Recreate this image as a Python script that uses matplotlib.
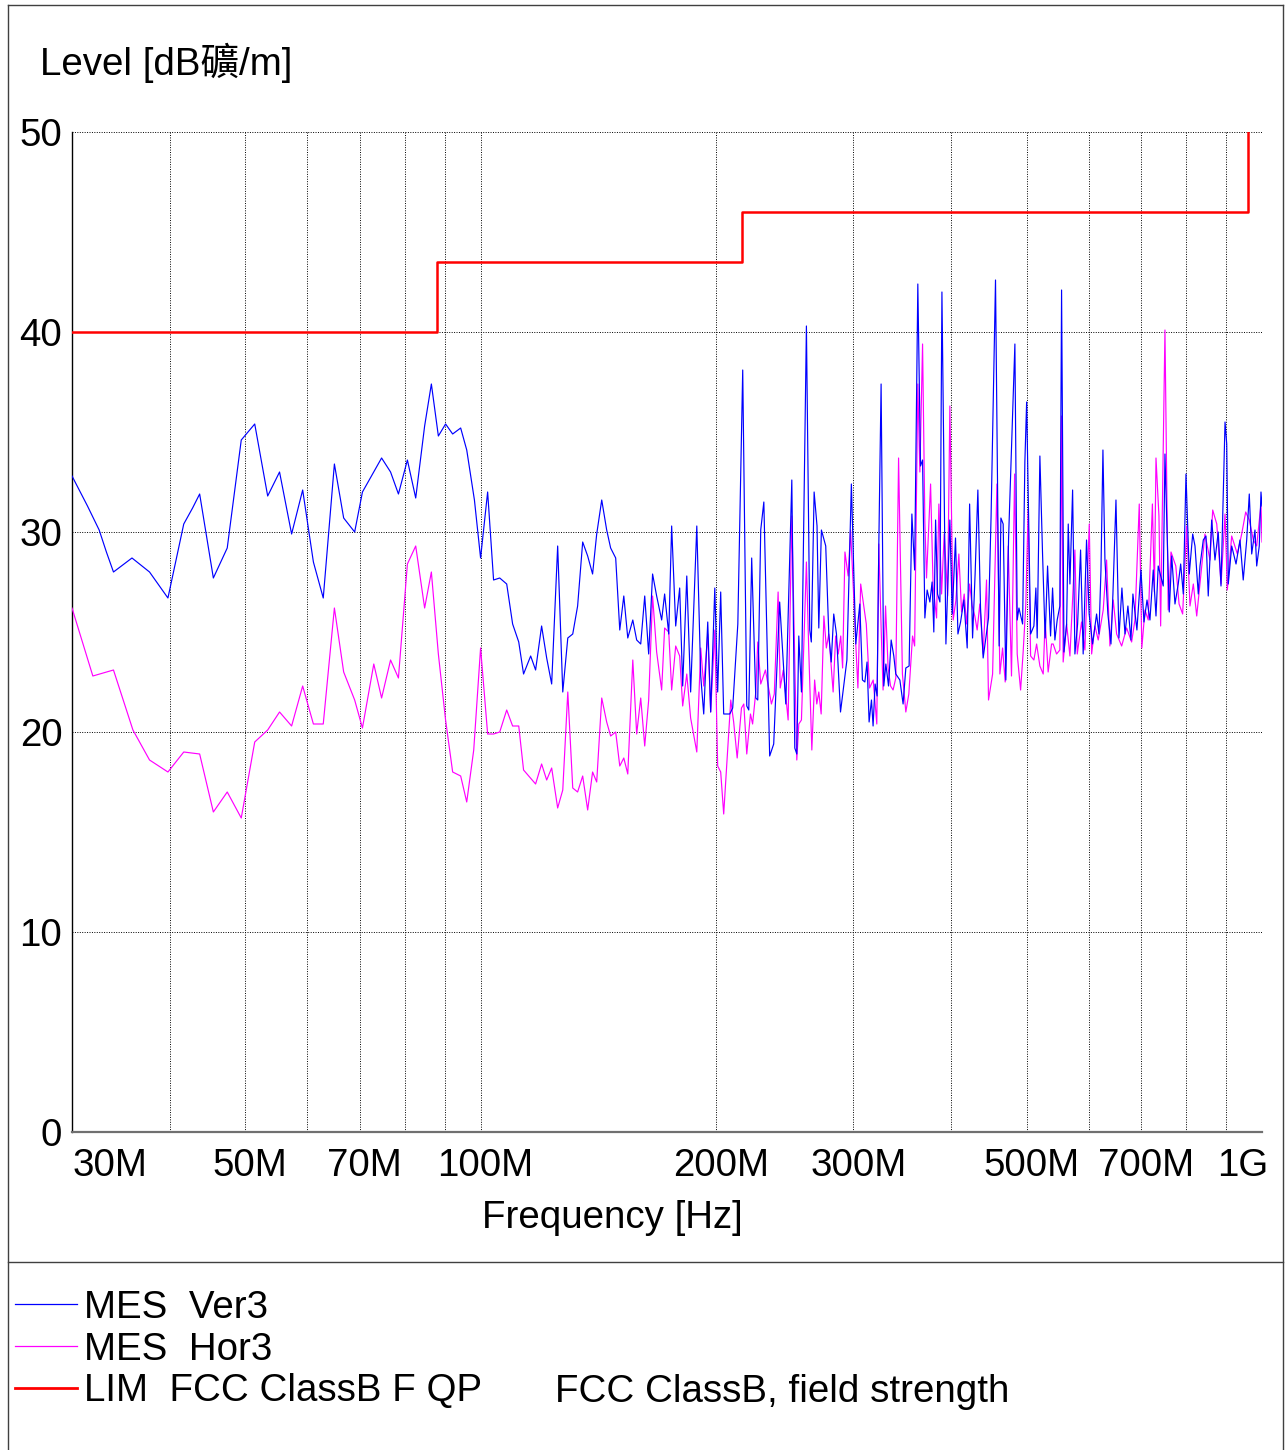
import matplotlib
matplotlib.use('Agg')
import matplotlib.pyplot as plt
from matplotlib.lines import Line2D
from matplotlib.ticker import FixedLocator, NullLocator

# Measured levels, frequency in MHz, level in dBuV/m
ver_mhz = [
    30.0, 31.4, 32.5, 33.2, 33.9, 35.8, 37.7, 39.8, 41.7, 42.8, 43.7, 45.5, 47.4, 49.4, 51.4, 53.4, 55.3, 57.3, 59.2, 61.1,
    62.9, 65.0, 66.8, 69.0, 70.6, 74.7, 76.7, 78.5, 80.6, 82.6, 84.8, 86.5, 88.3, 90.2, 92.1, 94.3, 96.0, 98.2, 100.0, 102.1,
    103.9, 105.8, 108.0, 109.9, 111.9, 113.5, 115.9, 117.6, 119.7, 121.5, 123.3, 125.5, 127.4, 129.3, 131.2, 133.1, 135.1, 137.1, 139.1, 140.8,
    142.9, 145.0, 146.7, 148.9, 150.7, 152.5, 154.3, 156.6, 158.4, 160.3, 162.2, 164.1, 166.0, 168.0, 170.5, 172.0, 174.1, 175.6, 177.7, 179.8,
    181.4, 183.6, 185.7, 189.1, 191.3, 193.0, 195.3, 197.0, 199.4, 201.1, 202.9, 204.7, 208.4, 210.2, 213.4, 216.5, 219.1, 220.4, 222.3, 225.0,
    226.3, 228.3, 230.4, 234.4, 237.2, 241.4, 245.8, 250.2, 252.4, 253.9, 255.4, 257.4, 261.2, 263.8, 265.0, 267.2, 269.5, 270.9, 273.0, 276.5,
    279.0, 281.0, 283.1, 285.4, 288.8, 290.9, 294.3, 298.2, 302.1, 305.7, 308.1, 310.3, 312.3, 314.2, 316.4, 317.9, 319.8, 321.7, 323.3, 325.5,
    328.1, 330.1, 332.7, 335.3, 337.9, 339.9, 344.0, 347.3, 350.1, 353.5, 356.4, 359.3, 362.7, 365.6, 367.8, 370.3, 372.8, 375.8, 378.3, 380.2,
    382.2, 384.4, 387.1, 389.4, 394.0, 398.6, 401.4, 405.3, 408.2, 411.4, 415.4, 419.5, 422.5, 426.2, 429.4, 432.9, 436.3, 439.7, 446.7, 450.1,
    456.0, 460.9, 463.3, 466.4, 470.1, 473.9, 482.8, 486.1, 488.6, 493.9, 497.2, 499.8, 505.7, 510.6, 513.6, 515.6, 519.7, 523.8, 527.8, 531.6,
    536.3, 539.5, 543.2, 546.9, 551.2, 554.0, 557.9, 562.3, 565.0, 567.8, 572.3, 576.2, 580.8, 585.9, 590.4, 596.3, 600.9, 607.0, 614.2, 618.5,
    622.2, 625.8, 629.5, 635.0, 640.8, 644.5, 650.3, 656.0, 661.8, 667.8, 673.6, 679.7, 683.6, 691.7, 700.0, 706.2, 712.6, 718.8, 725.8, 731.7,
    736.5, 747.5, 751.3, 760.9, 766.4, 773.8, 781.3, 786.9, 793.0, 799.3, 807.1, 815.3, 820.8, 828.8, 833.0, 841.1, 847.8, 853.5, 862.2, 870.6,
    879.0, 886.2, 896.8, 901.3, 905.4, 914.6, 926.3, 937.2, 946.2, 955.9, 963.2, 970.1, 979.5, 984.5, 992.0, 997.0, 1000.0]
ver_db = [
    32.8, 31.3, 30.1, 29.0, 28.0, 28.7, 28.0, 26.7, 30.4, 31.2, 31.9, 27.7, 29.2, 34.6, 35.4, 31.8, 33.0, 29.9, 32.1, 28.5,
    26.7, 33.4, 30.7, 30.0, 32.0, 33.7, 33.0, 31.9, 33.6, 31.7, 35.3, 37.4, 34.8, 35.4, 34.9, 35.2, 34.1, 31.6, 28.7, 32.0,
    27.6, 27.7, 27.4, 25.4, 24.5, 22.9, 23.8, 23.1, 25.3, 23.7, 22.4, 29.3, 22.0, 24.7, 24.9, 26.3, 29.5, 28.8, 27.9, 29.9,
    31.6, 30.1, 29.2, 28.7, 25.1, 26.8, 24.7, 25.6, 24.6, 24.4, 26.8, 23.9, 27.9, 26.8, 25.6, 26.9, 24.9, 30.3, 25.3, 27.2,
    22.3, 27.8, 22.0, 30.3, 22.8, 20.9, 25.5, 21.0, 27.2, 22.0, 27.0, 20.9, 20.9, 21.2, 25.4, 38.1, 21.3, 21.1, 28.7, 21.7,
    21.6, 30.1, 31.5, 18.8, 19.4, 26.5, 21.4, 32.6, 19.2, 18.9, 24.8, 22.0, 40.3, 25.1, 24.5, 32.0, 30.3, 25.2, 30.1, 29.3,
    24.9, 23.5, 25.9, 24.9, 21.0, 22.0, 23.6, 32.4, 24.4, 26.4, 22.6, 22.5, 23.5, 20.5, 21.6, 20.3, 22.4, 21.8, 29.3, 37.4,
    22.3, 23.4, 22.3, 24.6, 23.8, 22.9, 22.6, 21.4, 23.2, 23.3, 30.9, 28.1, 42.4, 33.3, 33.6, 25.7, 27.1, 26.5, 27.5, 25.0,
    30.6, 26.9, 26.5, 42.0, 24.4, 30.6, 25.9, 29.7, 24.9, 25.5, 26.6, 24.2, 31.4, 24.7, 27.9, 32.1, 26.2, 23.7, 25.7, 30.8,
    42.6, 24.3, 30.7, 30.4, 22.6, 29.7, 39.4, 25.6, 26.2, 25.4, 33.5, 36.5, 24.9, 25.3, 27.2, 24.7, 33.8, 28.9, 24.7, 28.3,
    24.8, 27.2, 24.6, 25.6, 26.3, 42.1, 24.0, 25.4, 30.4, 27.4, 32.1, 23.9, 25.4, 29.1, 23.9, 29.6, 25.9, 24.4, 25.9, 24.9,
    28.1, 34.1, 28.6, 25.9, 24.4, 26.9, 31.6, 24.7, 27.2, 24.9, 26.3, 24.6, 26.9, 25.1, 28.1, 25.5, 26.6, 25.6, 28.1, 25.8,
    28.3, 27.3, 33.9, 26.0, 28.8, 26.4, 27.4, 28.4, 26.9, 32.9, 27.9, 29.9, 29.3, 26.9, 28.3, 29.6, 29.8, 26.8, 30.6, 28.6,
    30.0, 27.3, 35.5, 34.4, 27.4, 29.3, 28.4, 29.6, 27.6, 29.6, 31.9, 28.9, 30.1, 28.3, 29.3, 32.0, 31.3]

hor_mhz = [
    30.0, 31.9, 33.9, 35.9, 37.7, 39.8, 41.7, 43.7, 45.5, 47.4, 49.4, 51.4, 53.4, 55.3, 57.3, 59.2, 61.1, 62.9, 65.0, 66.8,
    69.0, 70.6, 73.0, 74.7, 76.7, 78.5, 80.6, 82.6, 84.8, 86.5, 88.3, 90.2, 92.1, 94.3, 96.0, 98.0, 100.0, 102.1, 103.9, 105.8,
    108.0, 109.9, 111.9, 113.5, 117.6, 119.7, 121.5, 123.3, 125.5, 127.4, 129.3, 131.2, 133.1, 135.1, 137.1, 139.1, 140.8, 142.9, 145.0, 146.7,
    148.9, 150.7, 152.5, 154.3, 156.6, 158.4, 160.3, 162.2, 164.1, 166.0, 168.0, 170.5, 172.0, 174.1, 175.6, 177.7, 179.8, 181.4, 183.6, 185.7,
    189.1, 191.3, 193.0, 195.3, 197.0, 199.4, 201.1, 202.9, 204.7, 209.0, 210.8, 213.0, 215.7, 217.2, 219.1, 221.5, 222.9, 225.0, 226.3, 228.3,
    231.5, 235.6, 237.6, 240.3, 241.8, 244.0, 247.5, 250.2, 253.9, 255.4, 257.4, 261.2, 263.0, 265.4, 267.6, 269.3, 270.9, 272.8, 275.0, 277.0,
    279.0, 282.6, 284.7, 286.9, 289.0, 290.6, 292.6, 295.4, 297.5, 300.0, 302.1, 304.0, 306.5, 311.6, 314.6, 318.0, 321.4, 323.3, 325.7, 327.4,
    329.8, 332.3, 334.7, 337.2, 339.9, 342.7, 346.6, 350.1, 353.2, 357.1, 359.3, 362.7, 364.9, 367.8, 370.3, 372.1, 376.6, 379.4, 383.3, 385.9,
    389.0, 392.0, 396.0, 398.6, 402.5, 405.8, 409.3, 412.6, 415.8, 418.8, 422.5, 425.7, 429.0, 432.0, 435.4, 439.7, 444.1, 446.7, 452.1, 457.9,
    461.9, 465.6, 469.2, 473.4, 478.0, 482.4, 486.1, 491.0, 494.7, 498.6, 502.0, 505.7, 510.6, 514.7, 519.7, 524.8, 527.8, 532.5, 537.9, 540.4,
    545.9, 551.2, 554.0, 556.6, 562.3, 567.8, 576.2, 580.2, 587.6, 593.4, 601.1, 605.3, 611.2, 617.2, 626.3, 632.6, 638.8, 645.1, 651.6, 661.3,
    671.1, 681.0, 687.7, 696.5, 701.8, 708.3, 715.2, 724.0, 728.3, 731.7, 738.1, 741.8, 751.3, 758.5, 764.8, 775.7, 783.2, 791.5, 801.0, 808.8,
    816.8, 825.0, 831.3, 845.3, 857.9, 864.8, 875.2, 886.4, 896.8, 902.9, 914.5, 929.9, 941.9, 953.1, 963.2, 974.8, 984.5, 997.0, 1000.0]
hor_db = [
    26.2, 22.8, 23.1, 20.1, 18.6, 18.0, 19.0, 18.9, 16.0, 17.0, 15.7, 19.5, 20.1, 21.0, 20.3, 22.3, 20.4, 20.4, 26.2, 23.0,
    21.6, 20.2, 23.4, 21.7, 23.6, 22.7, 28.4, 29.3, 26.2, 28.0, 23.9, 20.6, 18.0, 17.8, 16.5, 19.1, 24.2, 19.9, 19.9, 20.0,
    21.1, 20.3, 20.3, 18.1, 17.4, 18.4, 17.6, 18.2, 16.2, 17.1, 22.0, 17.2, 17.0, 17.8, 16.1, 18.0, 17.5, 21.7, 20.5, 19.8,
    20.0, 18.3, 18.7, 17.9, 23.6, 19.9, 21.7, 19.3, 21.6, 26.8, 24.0, 22.1, 25.2, 25.0, 22.1, 24.3, 23.8, 21.3, 22.9, 20.7,
    19.0, 24.2, 22.3, 24.9, 21.0, 25.1, 18.3, 18.0, 15.9, 21.6, 20.5, 18.7, 21.2, 21.4, 18.9, 20.9, 20.4, 22.0, 24.5, 22.4,
    23.1, 21.4, 21.9, 27.0, 22.2, 23.1, 20.6, 30.8, 18.6, 20.4, 20.6, 28.5, 24.1, 19.1, 22.6, 21.4, 22.0, 20.9, 25.8, 24.2,
    24.9, 22.0, 24.8, 23.9, 24.8, 23.2, 29.0, 27.8, 30.1, 27.1, 24.4, 22.2, 27.4, 25.4, 22.2, 22.6, 20.4, 29.4, 24.9, 22.1,
    26.3, 23.2, 22.3, 22.1, 22.7, 33.7, 22.9, 21.0, 21.9, 24.8, 24.3, 37.4, 33.0, 39.4, 30.5, 27.7, 32.4, 27.3, 25.7, 31.4,
    26.9, 29.9, 26.8, 36.3, 25.6, 26.6, 28.9, 26.0, 26.9, 25.4, 27.4, 26.3, 25.8, 25.1, 26.4, 23.9, 27.6, 21.6, 22.9, 32.4,
    22.9, 24.2, 22.5, 29.3, 22.8, 32.9, 23.9, 22.1, 24.0, 26.4, 31.1, 23.8, 23.6, 24.4, 23.3, 22.9, 25.6, 23.0, 24.4, 24.4,
    23.9, 24.1, 35.8, 23.5, 25.4, 23.8, 29.1, 23.9, 25.5, 24.1, 30.4, 23.9, 25.3, 24.6, 26.1, 28.6, 24.3, 26.6, 24.9, 24.3,
    25.2, 24.5, 25.6, 31.4, 24.2, 26.1, 25.6, 31.4, 27.0, 33.7, 30.8, 25.3, 40.1, 26.1, 29.0, 28.3, 26.4, 25.9, 30.3, 26.3,
    27.4, 25.8, 27.1, 29.9, 28.6, 31.1, 30.4, 27.4, 30.9, 27.1, 29.8, 28.9, 29.9, 31.0, 30.6, 29.6, 29.3, 31.4, 29.5]

# FCC class B limit (quasi peak), stepped
lim_mhz = [30, 88, 88, 216, 216, 960, 960, 1000]
lim_db = [40, 40, 43.5, 43.5, 46, 46, 54, 54]

grid_mhz = [40, 50, 60, 70, 80, 90, 100, 200, 300, 400, 500, 600, 700, 800, 900, 1000]
xlabel_mhz = [30, 50, 70, 100, 200, 300, 500, 700, 1000]
xlabel_text = ['30M', '50M', '70M', '100M', '200M', '300M', '500M', '700M', '1G']
y_ticks = [0, 10, 20, 30, 40, 50]

FS = 27.7
plt.rcParams['font.family'] = ['Liberation Sans', 'Noto Sans CJK TC', 'DejaVu Sans']
plt.rcParams['font.size'] = FS

W, H = 1285, 1450
fig = plt.figure(figsize=(W / 100, H / 100), dpi=100)
ax = fig.add_axes([72 / W, 1 - 1132 / H, 1190 / W, 1000 / H])

ax.plot(hor_mhz, hor_db, color='#ff00ff', lw=0.85, zorder=3)
ax.plot(ver_mhz, ver_db, color='#0000ff', lw=0.85, zorder=4)
ax.plot(lim_mhz, lim_db, color='#ff0000', lw=1.8, zorder=5)

ax.set_xscale('log')
ax.set_xlim(30, 1000)
ax.set_ylim(0, 50)
ax.xaxis.set_major_locator(FixedLocator(grid_mhz))
ax.xaxis.set_minor_locator(NullLocator())
ax.set_xticklabels([])
ax.set_yticks(y_ticks)
ax.tick_params(length=0, labelsize=FS, pad=7)
ax.grid(True, color='black', linestyle=(0, (1, 1.5)), linewidth=0.7)
ax.set_axisbelow(True)

for side in ['top', 'right']:
    ax.spines[side].set_visible(False)
ax.spines['left'].set_color('black')
ax.spines['left'].set_linewidth(1.0)
ax.spines['bottom'].set_color('#707070')
ax.spines['bottom'].set_linewidth(1.6)

# x labels sit a little right of their grid line, end labels flush with the frame
for f, lab in zip(xlabel_mhz, xlabel_text):
    if f == 30:
        ha, dx = 'left', 0.5
    elif f == 1000:
        ha, dx = 'right', 4.3
    else:
        ha, dx = 'center', 3.5
    ax.annotate(lab, xy=(f, 0), xycoords=('data', 'axes fraction'),
                xytext=(dx, -11.5), textcoords='offset points',
                ha=ha, va='top', fontsize=FS, annotation_clip=False)

fig.text(40 / W, 1 - 75 / H, 'Level [dB礦/m]', fontsize=FS, va='baseline')
fig.text(612 / W, 1 - 1228 / H, 'Frequency [Hz]', fontsize=FS, ha='center', va='baseline')

# outer frame and the rule above the legend
frame_c = '#404040'
fig.add_artist(Line2D([7.5 / W, 7.5 / W], [1 - 5 / H, 0], color=frame_c, lw=1))
fig.add_artist(Line2D([1283 / W, 1283 / W], [1 - 5 / H, 0], color=frame_c, lw=1))
fig.add_artist(Line2D([7.5 / W, 1283 / W], [1 - 5 / H, 1 - 5 / H], color=frame_c, lw=1))
fig.add_artist(Line2D([7.5 / W, 1283 / W], [1 - 1262 / H, 1 - 1262 / H], color=frame_c, lw=1))

legend_rows = [
    ('MES  Ver3', '#0000ff', 0.9, 1304),
    ('MES  Hor3', '#ff00ff', 0.9, 1346),
    ('LIM  FCC ClassB F QP', '#ff0000', 2.0, 1388),
]
for text, col, lw, y in legend_rows:
    fig.add_artist(Line2D([15 / W, 77 / W], [1 - y / H, 1 - y / H], color=col, lw=lw))
    fig.text(84 / W, 1 - (y + 13.5) / H, text, fontsize=FS, va='baseline')
fig.text(555 / W, 1 - (1388 + 13.5) / H, 'FCC ClassB, field strength', fontsize=FS, va='baseline')

fig.savefig('out.png', dpi=100)
